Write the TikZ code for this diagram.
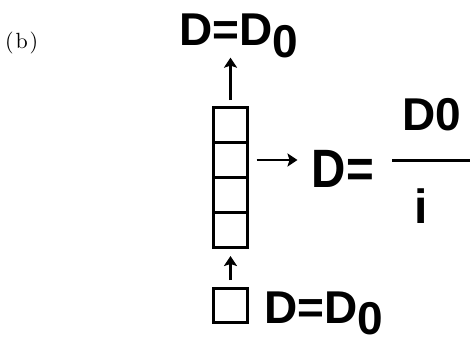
\documentclass[tikz,border=0pt]{standalone}
\usepackage{fontspec}
\setsansfont{Liberation Sans}
\usetikzlibrary{arrows.meta}
\tikzset{
  cell/.style={draw, line width=3pt, minimum width=34pt, minimum height=35pt, inner sep=0pt},
  sq/.style={draw, line width=3pt, minimum width=34pt, minimum height=34pt, inner sep=0pt},
  lbl/.style={anchor=base west, inner sep=0pt, font=\sffamily\bfseries\fontsize{46}{46}\selectfont},
  arr/.style={line width=2.5pt, -{Stealth[width=13pt,length=10pt,inset=2pt]}},
}
\begin{document}
\begin{tikzpicture}[x=1pt,y=-1pt]
\useasboundingbox (0,0) rectangle (470,341);
\node[anchor=base west, inner sep=0pt] (tag) at (5,48.5) {\scalebox{2.2}{\rmfamily (\kern0.8pt b\kern0.8pt)}};
% column of cells
\node[cell] (c1) at (230.5,125) {};
\node[cell] (c2) at (230.5,160) {};
\node[cell] (c3) at (230.5,195) {};
\node[cell] (c4) at (230.5,230) {};
% single square
\node[sq] (s) at (230.5,305.5) {};
% labels
\node[lbl] (top) at (179,45) {D=D\raisebox{-12pt}{0}};
\node[lbl] (bot) at (264,323) {D=D\raisebox{-11pt}{0}};
\node[anchor=base west, inner sep=0pt, font=\sffamily\bfseries\fontsize{54}{54}\selectfont] (rD) at (311.5,187) {\scalebox{0.88}[1]{D=}};
\node[lbl] (num) at (402,130) {D0};
\node[anchor=base west, inner sep=0pt, font=\sffamily\bfseries\fontsize{48}{48}\selectfont] (den) at (414,223) {i};
\draw[line width=3pt] (392,160) -- (470,160);
% arrows
\draw[arr, shorten <=6pt] (c1.north) -- (c1.north |- top.south);
\draw[arr, shorten <=7pt, shorten >=7pt] (s.north) -- (c4.south);
\draw[arr, shorten <=7.5pt, shorten >=14pt] (c2.east) -- (c2.east -| rD.west);
\end{tikzpicture}
\end{document}
